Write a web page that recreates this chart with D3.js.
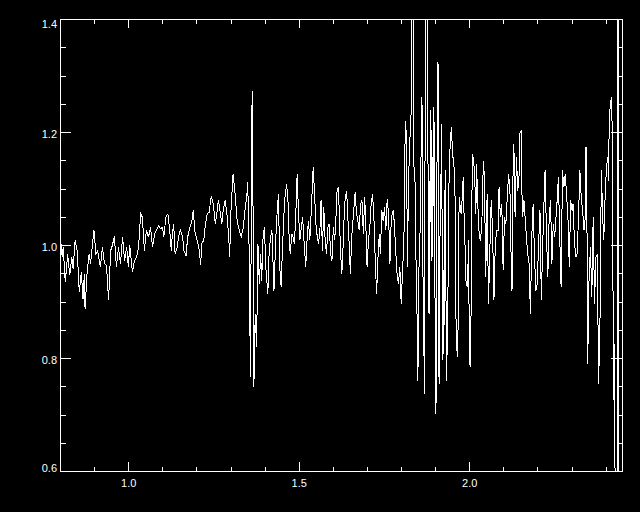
<!DOCTYPE html>
<html>
<head>
<meta charset="utf-8">
<script src="https://cdn.jsdelivr.net/npm/d3@7"></script>
<style>
  html, body { margin: 0; padding: 0; background: #000; }
  svg { display: block; }
</style>
</head>
<body>
<script>
// spectrum, split in chunks so the lines stay paired
const wavelength = [
  0.800, 0.805, 0.808, 0.814, 0.821, 0.827, 0.833, 0.837, 0.843, 0.849, 0.855, 0.861, 0.866, 0.870, 0.872, 0.878, 0.884, 0.888, 0.898, 0.904, 0.909, 0.917, 0.923, 0.929, 0.935, 0.941, 0.947, 0.952, 0.958, 0.964, 0.970, 0.976, 0.982, 0.988, 0.994, 0.999, 1.003, 1.011, 1.017, 1.023, 1.029, 1.035, 1.040, 1.046, 1.052, 1.058, 1.064, 1.070, 1.076,
  1.082, 1.087, 1.093, 1.099, 1.103, 1.109, 1.115, 1.121, 1.125, 1.128, 1.132, 1.136, 1.142, 1.148, 1.152, 1.158, 1.162, 1.168, 1.173, 1.179, 1.185, 1.189, 1.195, 1.201, 1.207, 1.211, 1.214, 1.220, 1.224, 1.230, 1.236, 1.242, 1.248, 1.254, 1.257, 1.263, 1.269, 1.273, 1.277, 1.283, 1.289, 1.295, 1.296, 1.300, 1.306, 1.312, 1.318, 1.324, 1.330, 1.336, 1.342, 1.346,
  1.349, 1.353, 1.357, 1.361, 1.363, 1.365, 1.367, 1.371, 1.375, 1.379, 1.383, 1.387, 1.390, 1.394, 1.398, 1.402, 1.408, 1.412, 1.416, 1.420, 1.426, 1.431, 1.435, 1.439, 1.443, 1.447, 1.451, 1.457, 1.463, 1.467, 1.471, 1.474, 1.478, 1.482, 1.486, 1.490, 1.494, 1.498, 1.502, 1.506, 1.510, 1.514, 1.519, 1.523, 1.527, 1.531, 1.535, 1.541, 1.545, 1.549, 1.553, 1.557, 1.561, 1.564, 1.568, 1.572, 1.576, 1.580, 1.584, 1.588, 1.592, 1.596, 1.600, 1.604, 1.607, 1.611, 1.615,
  1.621, 1.625, 1.629, 1.633, 1.639, 1.643, 1.647, 1.650, 1.654, 1.660, 1.664, 1.668, 1.672, 1.676, 1.680, 1.684, 1.688, 1.692, 1.695, 1.699, 1.703, 1.707, 1.711, 1.715, 1.719, 1.723, 1.727, 1.731, 1.735, 1.738, 1.742, 1.746, 1.750, 1.754, 1.758, 1.762, 1.766, 1.770, 1.776, 1.779, 1.783, 1.787, 1.791, 1.795, 1.799,
  1.807, 1.811, 1.815, 1.817, 1.821, 1.824, 1.828, 1.831, 1.834, 1.836, 1.840, 1.842, 1.846, 1.848, 1.852, 1.856, 1.858, 1.860, 1.862, 1.865, 1.867, 1.871, 1.875, 1.877, 1.879, 1.881, 1.883, 1.885, 1.887, 1.889, 1.891, 1.895, 1.897, 1.899, 1.901, 1.903, 1.905, 1.907, 1.909, 1.910, 1.912, 1.914, 1.916, 1.918, 1.920, 1.922, 1.924, 1.928, 1.930, 1.932, 1.936, 1.938, 1.942, 1.946, 1.948, 1.950, 1.953, 1.957, 1.959, 1.963, 1.965, 1.969, 1.971, 1.975, 1.977, 1.981, 1.983, 1.987, 1.989, 1.993, 1.997, 1.998, 2.000, 2.002, 2.004, 2.006, 2.008, 2.010, 2.014, 2.018, 2.020, 2.024, 2.028, 2.032, 2.036, 2.040, 2.043, 2.047, 2.051, 2.055, 2.059, 2.063, 2.067, 2.071, 2.075, 2.079, 2.083, 2.086, 2.090, 2.094, 2.098, 2.102, 2.106, 2.110, 2.114, 2.118,
  2.122, 2.124, 2.126, 2.129, 2.131, 2.133, 2.137, 2.141, 2.145, 2.147, 2.151, 2.153, 2.155, 2.159, 2.163, 2.167, 2.170, 2.174, 2.178, 2.182, 2.186, 2.190, 2.194, 2.198, 2.202, 2.206, 2.210, 2.213, 2.217, 2.221, 2.225, 2.229, 2.233, 2.237, 2.241, 2.245, 2.249, 2.253, 2.257, 2.260, 2.264, 2.268, 2.272, 2.276, 2.280, 2.284, 2.288, 2.292, 2.296, 2.300, 2.303, 2.307, 2.311, 2.315, 2.319, 2.323, 2.327, 2.331, 2.335, 2.339, 2.341, 2.343, 2.346, 2.350, 2.354, 2.358, 2.362, 2.366, 2.370, 2.374, 2.378, 2.382, 2.386, 2.390, 2.393, 2.397, 2.401, 2.405, 2.407, 2.409, 2.411, 2.415, 2.419, 2.421, 2.423, 2.425, 2.427, 2.434, 2.435, 2.436
]

const flux = [
  1.012, 0.979, 0.997, 0.935, 0.985, 0.947, 0.979, 0.959, 1.009, 0.991, 0.917, 0.953, 0.906, 0.950, 0.888, 0.953, 0.985, 0.968, 1.027, 0.985, 0.991, 0.962, 0.997, 0.968, 0.965, 0.903, 0.991, 1.000, 1.016, 0.962, 0.997, 0.968, 1.015, 0.973, 0.997, 0.962, 1.000, 0.953, 0.973, 0.979, 0.997, 1.056, 1.050, 0.991, 1.027, 1.015, 1.032, 0.997, 1.021,
  1.027, 1.035, 1.030, 1.032, 1.015, 1.050, 1.056, 1.021, 0.991, 1.021, 1.038, 0.985, 0.997, 1.021, 1.027, 1.015, 0.991, 0.982, 1.015, 1.032, 1.041, 1.062, 1.021, 1.009, 0.991, 0.965, 1.003, 1.009, 1.032, 1.056, 1.059, 1.088, 1.074, 1.038, 1.050, 1.080, 1.056, 1.038, 1.062, 1.080, 1.050, 0.997, 0.979, 1.062, 1.127, 1.091, 1.044, 1.027, 1.016, 1.032, 1.068, 1.085,
  1.112, 0.997, 0.767, 1.239, 1.274, 1.003, 0.749, 0.879, 0.820, 1.003, 0.932, 0.985, 0.938, 1.015, 1.032, 0.962, 0.914, 0.991, 1.015, 1.027, 0.920, 1.009, 1.056, 1.091, 0.962, 0.926, 0.997, 1.080, 1.109, 1.080, 1.003, 0.985, 1.021, 1.015, 1.003, 1.056, 1.127, 1.056, 1.009, 1.032, 1.050, 1.009, 0.962, 1.009, 1.044, 1.009, 1.056, 1.139, 1.091, 1.038, 1.015, 1.003, 1.032, 1.080, 0.991, 1.068, 1.009, 0.985, 1.032, 1.038, 0.985, 0.973, 1.032, 1.009, 1.038, 1.097, 1.103,
  0.991, 0.950, 1.003, 1.074, 1.097, 1.044, 0.997, 0.950, 1.015, 1.062, 1.094, 1.056, 1.044, 1.027, 1.074, 1.080, 1.021, 1.085, 1.044, 0.962, 1.009, 1.032, 1.074, 1.091, 1.050, 0.973, 0.914, 0.979, 1.021, 0.985, 1.062, 1.044, 1.068, 1.027, 1.083, 1.056, 0.968, 1.050, 1.062, 1.038, 0.991, 0.950, 0.932, 0.962, 0.897,
  1.009, 1.221, 1.192, 0.962, 1.121, 1.180, 1.233, 1.600, 1.600, 1.145, 1.109, 0.991, 0.861, 0.761, 1.003, 1.038, 1.239, 1.262, 0.985, 0.867, 0.738, 1.600, 1.600, 1.280, 0.885, 0.879, 1.062, 1.239, 0.973, 1.204, 0.979, 1.245, 1.062, 0.808, 0.702, 0.926, 1.324, 1.321, 0.903, 0.755, 0.926, 1.127, 1.085, 1.215, 0.797, 0.956, 0.808, 1.133, 0.944, 0.761, 0.891, 1.085, 1.168, 1.209, 1.186, 1.156, 1.156, 1.085, 0.885, 0.808, 0.802, 1.085, 1.074, 1.056, 1.074, 1.121, 1.062, 0.985, 0.938, 0.926, 1.009, 0.885, 0.791, 0.785, 0.885, 1.062, 1.162, 1.156, 1.133, 1.056, 1.145, 1.068, 1.015, 1.009, 1.050, 1.150, 1.121, 0.944, 1.091, 0.897, 0.991, 1.080, 1.027, 0.903, 1.003, 1.027, 1.027, 1.103, 1.050, 1.074, 0.956, 1.050, 1.038, 1.085, 1.127, 1.097,
  0.956, 0.920, 1.097, 1.180, 1.145, 1.050, 1.156, 1.097, 1.127, 1.198, 1.204, 1.097, 1.050, 1.080, 1.044, 1.009, 0.985, 0.968, 0.879, 1.015, 1.074, 0.979, 0.920, 0.932, 1.003, 1.062, 0.903, 0.979, 1.062, 1.133, 1.021, 0.944, 1.050, 1.080, 0.968, 1.038, 1.015, 1.050, 1.085, 1.121, 1.015, 0.926, 1.133, 1.103, 1.127, 1.091, 1.050, 0.962, 1.080, 1.062, 1.074, 1.009, 0.979, 0.985, 1.050, 1.133, 1.085, 1.062, 1.027, 1.050, 1.174, 1.127, 0.791, 0.944, 0.997, 0.909, 1.050, 0.897, 0.979, 0.985, 0.755, 0.867, 1.133, 1.050, 1.009, 1.085, 1.139, 1.156, 1.115, 1.215, 1.239, 1.262, 1.186, 0.726, 0.773, 0.826, 0.400, 0.400, 1.700, 0.300
]

const xDomain = [0.8, 2.448]
const yDomain = [0.6, 1.4]
const xMajorTicks = [1.0, 1.5, 2.0]
const xMinorTicks = [0.9, 1.1, 1.2, 1.3, 1.4, 1.6, 1.7, 1.8, 1.9, 2.1, 2.2, 2.3, 2.4]
const yMajorTicks = [0.6, 0.8, 1.0, 1.2, 1.4]
const yMinorTicks = [0.65, 0.7, 0.75, 0.85, 0.9, 0.95, 1.05, 1.1, 1.15, 1.25, 1.3, 1.35]

const overallWidth = 640
const overallHeight = 512
const margin = { left: 60, top: 19, right: 18, bottom: 41 }
const width = overallWidth - margin.left - margin.right
const height = overallHeight - margin.top - margin.bottom

const fontFamily = '"Liberation Sans", Arial, sans-serif'
const majorLenX = 9
const majorLenY = 11

const x = d3.scaleLinear().domain(xDomain).range([0, width])
const y = d3.scaleLinear().domain(yDomain).range([height, 0])

const svg = d3.select('body').append('svg')
  .attr('width', overallWidth)
  .attr('height', overallHeight)
  .style('background', '#000')

const plot = svg.append('g')
  .attr('transform', `translate(${margin.left},${margin.top})`)

plot.append('clipPath')
  .attr('id', 'plotClip')
  .append('rect')
  .attr('width', width + 1)
  .attr('height', height + 1)

const n = Math.min(wavelength.length, flux.length)
const points = d3.range(n).map(i => [wavelength[i], flux[i]])

const line = d3.line()
  .x(d => x(d[0]) + 0.5)
  .y(d => y(d[1]) + 0.5)

// aliased 1px trace, like the old plotting device
plot.append('path')
  .datum(points)
  .attr('clip-path', 'url(#plotClip)')
  .attr('fill', 'none')
  .attr('stroke', '#fff')
  .attr('stroke-width', 1)
  .attr('shape-rendering', 'crispEdges')
  .attr('d', line)

// frame
plot.append('rect')
  .attr('x', 0.5)
  .attr('y', 0.5)
  .attr('width', width)
  .attr('height', height)
  .attr('fill', 'none')
  .attr('stroke', '#fff')
  .attr('shape-rendering', 'crispEdges')

const addAxis = (gen, tx, ty) => plot.append('g')
  .attr('transform', `translate(${tx},${ty})`)
  .call(gen)
  .attr('color', '#fff')
  .attr('font-family', fontFamily)
  .attr('font-size', 11)
  .call(g => g.select('.domain').remove())
  .call(g => g.selectAll('.tick line').attr('shape-rendering', 'crispEdges'))

// bottom
addAxis(d3.axisBottom(x).tickValues(xMajorTicks).tickSizeInner(-majorLenX).tickSizeOuter(0)
  .tickPadding(8).tickFormat(d3.format('.1f')), 0, height)
addAxis(d3.axisBottom(x).tickValues(xMinorTicks).tickSizeInner(-majorLenX / 2).tickSizeOuter(0)
  .tickFormat(''), 0, height)
// top
addAxis(d3.axisTop(x).tickValues(xMajorTicks).tickSizeInner(-majorLenX).tickSizeOuter(0)
  .tickFormat(''), 0, 0)
addAxis(d3.axisTop(x).tickValues(xMinorTicks).tickSizeInner(-majorLenX / 2).tickSizeOuter(0)
  .tickFormat(''), 0, 0)
// left
addAxis(d3.axisLeft(y).tickValues(yMajorTicks).tickSizeInner(-majorLenY).tickSizeOuter(0)
  .tickPadding(3).tickFormat(d3.format('.1f')), 0, 0)
  .call(g => g.selectAll('.tick text')
    .attr('dy', null)
    .attr('y', d => Math.min(Math.max(y(d) + 5, 8.5), height + 0.5) - y(d)))
addAxis(d3.axisLeft(y).tickValues(yMinorTicks).tickSizeInner(-majorLenY / 2).tickSizeOuter(0)
  .tickFormat(''), 0, 0)
// right
addAxis(d3.axisRight(y).tickValues(yMajorTicks).tickSizeInner(-majorLenY).tickSizeOuter(0)
  .tickFormat(''), width, 0)
addAxis(d3.axisRight(y).tickValues(yMinorTicks).tickSizeInner(-majorLenY / 2).tickSizeOuter(0)
  .tickFormat(''), width, 0)
</script>
</body>
</html>
